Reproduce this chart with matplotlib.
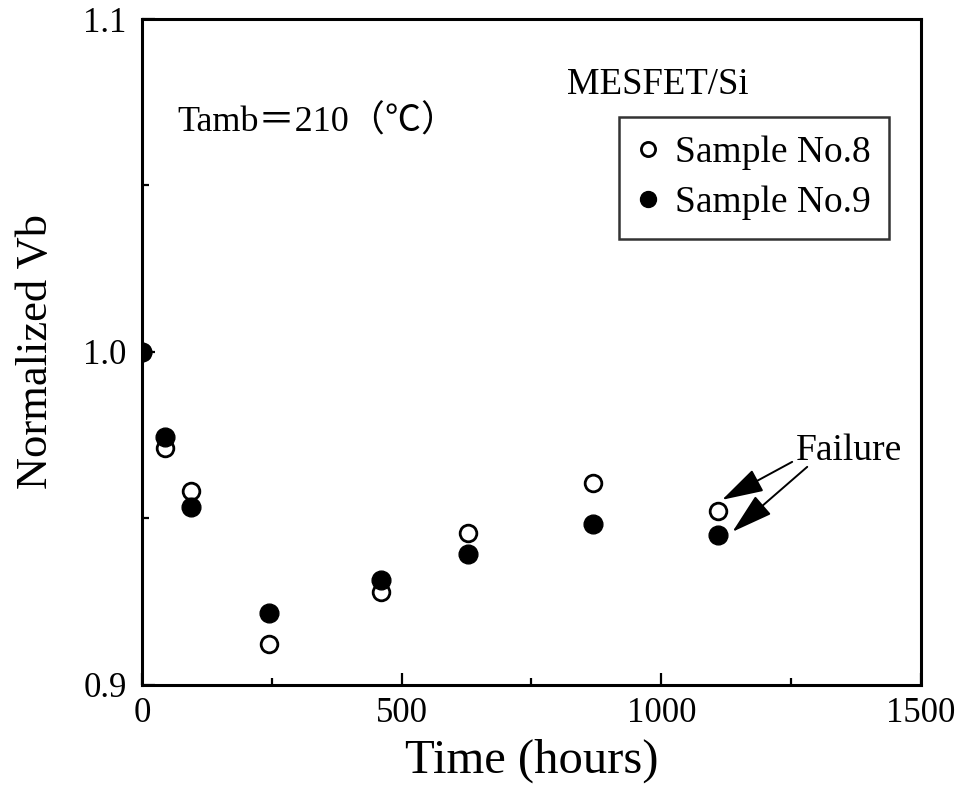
import matplotlib
matplotlib.use("Agg")
import matplotlib.pyplot as plt
from matplotlib.ticker import MultipleLocator

plt.rcParams['font.family'] = ['Liberation Serif', 'Noto Sans CJK JP', 'DejaVu Sans']

# Aging data: normalized barrier voltage vs. storage time
time_h = [0, 45, 94, 245, 461, 627, 869, 1109]
vb_no8 = [1.0, 0.9712, 0.9583, 0.9123, 0.9280, 0.9457, 0.9608, 0.9523]
vb_no9 = [1.0, 0.9746, 0.9535, 0.9217, 0.9315, 0.9393, 0.9483, 0.9450]

x_ticks = [0, 500, 1000, 1500]
y_ticks = [0.9, 1.0, 1.1]
y_tick_labels = ['0.9', '1.0', '1.1']

fig = plt.figure(figsize=(9.67, 7.95), dpi=100)
ax = fig.add_axes([0.1468, 0.1384, 0.8056, 0.8377])

ax.plot(time_h, vb_no8, linestyle='none', marker='o', markersize=12,
        markerfacecolor='white', markeredgecolor='black', markeredgewidth=2.0,
        label='Sample No.8', zorder=3)
ax.plot(time_h, vb_no9, linestyle='none', marker='o', markersize=13.5,
        markerfacecolor='black', markeredgecolor='black',
        label='Sample No.9', zorder=4)

ax.set_xlim(0, 1500)
ax.set_ylim(0.9, 1.1)
ax.set_xticks(x_ticks)
ax.set_yticks(y_ticks)
ax.set_yticklabels(y_tick_labels)
ax.xaxis.set_minor_locator(MultipleLocator(250))
ax.yaxis.set_minor_locator(MultipleLocator(0.05))

ax.tick_params(which='both', direction='in', top=False, right=False,
               labelsize=25, width=1.6)
ax.tick_params(which='major', length=9)
ax.tick_params(which='minor', length=5)
ax.tick_params(axis='x', pad=9)
ax.tick_params(axis='y', pad=11)
for s in ax.spines.values():
    s.set_linewidth(2.2)

ax.set_xlabel('Time (hours)', fontsize=35, labelpad=6)
ax.set_ylabel('Normalized Vb', fontsize=32, labelpad=20)

ax.text(0.045, 0.845, 'Tamb＝210（℃）', transform=ax.transAxes,
        fontsize=26, va='center', ha='left')
ax.text(0.545, 0.902, 'MESFET/Si', transform=ax.transAxes,
        fontsize=26.5, va='center', ha='left')

leg = ax.legend(loc='upper left', bbox_to_anchor=(0.612, 0.853),
                fontsize=27, frameon=True, fancybox=False, handlelength=0.55,
                handletextpad=0.45, borderpad=0.5, labelspacing=0.42,
                borderaxespad=0, markerscale=0.85)
leg.get_frame().set_edgecolor('black')
leg.get_frame().set_linewidth(1.8)

# "Failure" marks on the last readings
ax.text(1362, 0.9702, 'Failure', fontsize=27, ha='center', va='center')
arrow = dict(arrowstyle='-|>,head_length=1.3,head_width=0.38',
             mutation_scale=20, lw=1.4, color='black', shrinkA=0, shrinkB=0)
ax.annotate('', xy=(time_h[-1] + 8, vb_no8[-1] + 0.0033),
            xytext=(1252, 0.967), arrowprops=arrow)
ax.annotate('', xy=(time_h[-1] + 28, vb_no9[-1] + 0.001),
            xytext=(1281, 0.9655), arrowprops=arrow)

fig.savefig('out.png', dpi=100)
